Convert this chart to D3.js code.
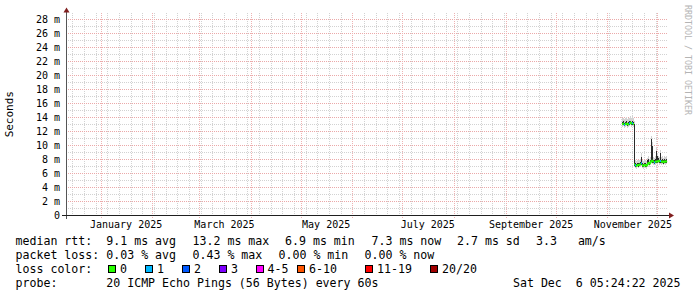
<!DOCTYPE html>
<html>
<head>
<meta charset="utf-8">
<script src="https://cdn.jsdelivr.net/npm/d3@7"></script>
<style>
  body { margin: 0; background: #fff; }
  svg { display: block; }
  text { font-family: "DejaVu Sans Mono", monospace; white-space: pre; }
</style>
</head>
<body>
<svg id="chart" width="697" height="297"></svg>
<script>
// time window shown (last 360 days)
const rangeStart = new Date(2024, 11, 11, 5, 24, 22);
const rangeEnd = new Date(2025, 11, 6, 5, 24, 22);

// samples: one every 14.4 h starting here
const firstSample = new Date(2025, 10, 9, 20, 0, 0);
const stepHours = 14.4;

// median rtt per sample (ms)
const median = [13.0, 13.1, 12.9, 13.0, 13.1, 12.9, 13.0, 13.1, 13.2, 13.0, 13.1, 13.0,
  7.2, 7.1, 7.0, 7.2, 7.1, 7.2, 7.3, 7.4, 7.1, 7.0,
  7.2, 7.1, 7.0, 7.3, 7.5, 7.3, 7.6, 7.8, 7.7, 7.6,
  7.5, 7.6, 7.7, 7.6, 7.8, 7.6, 7.7, 7.6, 7.7, 7.5,
  7.7, 7.6, 7.7];
// dense smoke (inner pings)
const darkLo = [12.8, 12.9, 12.7, 12.8, 12.9, 12.7, 12.8, 12.9, 13.0, 12.8, 12.9, 12.8,
  7.0, 6.9, 6.8, 7.0, 6.9, 7.0, 7.1, 7.2, 6.9, 6.8,
  7.0, 6.9, 6.8, 7.1, 7.3, 7.1, 7.4, 7.6, 7.5, 7.4,
  7.3, 7.4, 7.5, 7.4, 7.6, 7.4, 7.5, 7.4, 7.5, 7.3,
  7.5, 7.4, 7.5];
const darkHi = [13.3, 13.4, 13.2, 13.3, 13.4, 13.2, 13.3, 13.4, 13.5, 13.3, 13.5, 13.3,
  13.0, 7.4, 7.3, 7.5, 7.4, 7.5, 7.6, 8.3, 7.4, 7.3,
  7.5, 7.4, 7.3, 7.8, 8.0, 7.6, 7.9, 10.8, 9.9, 7.9,
  7.8, 8.0, 9.2, 8.4, 8.1, 7.9, 8.8, 7.9, 8.0, 7.8,
  8.0, 7.9, 8.0];
// light smoke (outer pings)
const lightLo = [12.6, 12.7, 12.5, 12.6, 12.7, 12.5, 12.6, 12.7, 12.8, 12.6, 12.7, 12.6,
  6.8, 6.7, 6.6, 6.8, 6.7, 6.8, 6.9, 7.0, 6.7, 6.6,
  6.8, 6.7, 6.6, 6.9, 7.1, 6.9, 7.2, 7.4, 7.3, 7.2,
  7.1, 7.2, 7.3, 7.2, 7.4, 7.2, 7.3, 7.2, 7.3, 7.1,
  7.3, 7.2, 7.3];
const lightHi = [13.8, 13.9, 13.7, 13.9, 14.0, 13.7, 13.8, 13.9, 14.1, 13.9, 14.3, 13.8,
  13.4, 7.8, 7.7, 7.9, 7.8, 7.9, 8.0, 8.8, 7.8, 7.7,
  7.9, 7.8, 7.7, 8.2, 8.4, 8.0, 8.3, 11.3, 10.4, 8.3,
  8.2, 8.4, 9.7, 8.8, 8.5, 8.3, 9.3, 8.3, 8.4, 8.2,
  8.4, 8.3, 8.4];
// loss class index per sample (index into lossColors)
const loss = [0, 0, 1, 0, 0, 0, 0, 1, 0, 0, 1, 0,
  0, 1, 0, 0, 0, 0, 0, 1, 0, 0,
  0, 0, 0, 0, 0, 0, 0, 0, 0, 0,
  1, 0, 0, 0, 0, 0, 1, 0, 0, 0,
  0, 0, 0];

const yTickValues = [0, 2, 4, 6, 8, 10, 12, 14, 16, 18, 20, 22, 24, 26, 28];
const monthLabelDates = [new Date(2025, 0, 16), new Date(2025, 2, 16), new Date(2025, 4, 16),
  new Date(2025, 6, 16), new Date(2025, 8, 16), new Date(2025, 10, 16)];

const lossLabels = ["0", "1", "2", "3", "4-5", "6-10", "11-19", "20/20"];
const lossColors = ["#26ff00", "#00b8ff", "#0059ff", "#7e00ff", "#ff00ff", "#ff5500", "#ff0000", "#a10000"];
const lossBoxX = [108.5, 145.5, 182.5, 219.5, 256, 297.5, 365.5, 430.5];

const statsRows = [
  [["median rtt:  9.1 ms avg", 15.5], ["13.2 ms max", 192.5], ["6.9 ms min", 285], ["7.3 ms now", 371.5], ["2.7 ms sd", 457], ["3.3   am/s", 536]],
  [["packet loss: 0.03 % avg", 15.5], ["0.43 % max", 192.5], ["0.00 % min", 278.5], ["0.00 % now", 364.5]]
];
const probeText = "probe:       20 ICMP Echo Pings (56 Bytes) every 60s";
const dateText = "Sat Dec  6 05:24:22 2025";

const plot = { left: 66, right: 666, top: 13.4, bottom: 215 };

const svg = d3.select("#chart");

const x = d3.scaleTime().domain([rangeStart, rangeEnd]).range([plot.left, plot.right]);
const y = d3.scaleLinear().domain([0, 28.8]).range([plot.bottom, plot.top]);

const samples = median.map((m, i) => ({
  t: new Date(firstSample.getTime() + i * stepHours * 3600e3),
  m: m, dLo: darkLo[i], dHi: darkHi[i], lLo: lightLo[i], lHi: lightHi[i], loss: loss[i]
}));

const px = v => Math.round(v) + 0.5;

// grid
const grid = svg.append("g").attr("shape-rendering", "crispEdges");
const minorY = d3.range(1, 29, 2);
grid.selectAll(".hmin").data(minorY).join("line")
  .attr("x1", plot.left).attr("x2", plot.right + 2)
  .attr("y1", d => px(y(d))).attr("y2", d => px(y(d)))
  .attr("stroke", "#d2d2d2").attr("stroke-dasharray", "1,1");
grid.selectAll(".vmin").data(d3.timeSunday.range(rangeStart, rangeEnd)).join("line")
  .attr("x1", d => px(x(d))).attr("x2", d => px(x(d)))
  .attr("y1", plot.top).attr("y2", plot.bottom + 2)
  .attr("stroke", "#d2d2d2").attr("stroke-dasharray", "1,1");
grid.selectAll(".hmaj").data(yTickValues.filter(v => v > 0)).join("line")
  .attr("x1", plot.left).attr("x2", plot.right + 2)
  .attr("y1", d => px(y(d))).attr("y2", d => px(y(d)))
  .attr("stroke", "#eba9a9").attr("stroke-dasharray", "1,1");
grid.selectAll(".vmaj").data(d3.timeMonth.range(rangeStart, rangeEnd)).join("line")
  .attr("x1", d => px(x(d))).attr("x2", d => px(x(d)))
  .attr("y1", plot.top).attr("y2", plot.bottom + 3)
  .attr("stroke", "#eeb2b2").attr("stroke-dasharray", "1,1");

// smoke
const smoke = svg.append("g").attr("shape-rendering", "crispEdges");
smoke.selectAll(".light").data(samples).join("rect")
  .attr("x", d => Math.round(x(d.t))).attr("width", 1)
  .attr("y", d => y(d.lHi)).attr("height", d => y(d.lLo) - y(d.lHi))
  .attr("fill", "#d2d2d2");
smoke.selectAll(".dark").data(samples).join("rect")
  .attr("x", d => Math.round(x(d.t))).attr("width", 1)
  .attr("y", d => y(d.dHi)).attr("height", d => y(d.dLo) - y(d.dHi))
  .attr("fill", "#2a2a2a");

// median, coloured by loss
const joined = (d, i) => i > 0 && samples[i - 1].loss === d.loss && Math.abs(samples[i - 1].m - d.m) < 1;
svg.append("g").selectAll("line").data(samples).join("line")
  .attr("x1", (d, i) => joined(d, i) ? Math.round(x(samples[i - 1].t)) + 0.5 : Math.round(x(d.t)))
  .attr("y1", (d, i) => joined(d, i) ? y(samples[i - 1].m) : y(d.m))
  .attr("x2", d => Math.round(x(d.t)) + 1)
  .attr("y2", d => y(d.m))
  .attr("stroke", d => lossColors[d.loss])
  .attr("stroke-width", 2);

// axes
const yAxis = svg.append("g")
  .attr("transform", `translate(${plot.left},0)`)
  .call(d3.axisLeft(y).tickValues(yTickValues).tickSize(0).tickPadding(6)
    .tickFormat(d => d === 0 ? "0" : d + " m"));
yAxis.select(".domain").remove();
yAxis.selectAll("text").attr("font-family", "DejaVu Sans Mono").attr("font-size", 10).attr("fill", "#000");

const xAxis = svg.append("g")
  .attr("transform", `translate(0,${plot.bottom})`)
  .call(d3.axisBottom(x).tickValues(monthLabelDates).tickSize(0).tickPadding(6)
    .tickFormat(d3.timeFormat("%B %Y")));
xAxis.select(".domain").remove();
xAxis.selectAll("text").attr("font-family", "DejaVu Sans Mono").attr("font-size", 10).attr("fill", "#000");

// axis lines and arrows
svg.append("line").attr("x1", px(plot.left)).attr("x2", px(plot.left))
  .attr("y1", plot.top - 1).attr("y2", plot.bottom + 4)
  .attr("stroke", "#555").attr("shape-rendering", "crispEdges");
svg.append("line").attr("x1", plot.left - 4).attr("x2", plot.right + 4)
  .attr("y1", px(plot.bottom)).attr("y2", px(plot.bottom))
  .attr("stroke", "#1f1f1f").attr("shape-rendering", "crispEdges");
const ax = px(plot.left), ay = px(plot.bottom);
svg.append("path")
  .attr("d", `M${ax - 3},${plot.top - 1}L${ax + 3},${plot.top - 1}L${ax},${plot.top - 6}Z`)
  .attr("fill", "#801f1f");
svg.append("path")
  .attr("d", `M${plot.right + 3},${ay - 3}L${plot.right + 3},${ay + 3}L${plot.right + 8},${ay}Z`)
  .attr("fill", "#801f1f");

// y title
svg.append("text")
  .attr("transform", `translate(13.3,${(plot.top + plot.bottom) / 2}) rotate(-90)`)
  .attr("text-anchor", "middle")
  .attr("font-family", "DejaVu Sans").attr("font-size", 11)
  .text("Seconds");

// watermark
svg.append("text")
  .attr("transform", "translate(685,5) rotate(90)")
  .attr("font-size", 8.3).attr("fill", "#b4b4b4")
  .text("RRDTOOL / TOBI OETIKER");

// legend
const legend = svg.append("g").attr("font-size", 11.6).attr("fill", "#000");
statsRows.forEach((row, r) => {
  row.forEach(([txt, lx]) => {
    legend.append("text").attr("x", lx).attr("y", 244.5 + r * 14.1).text(txt);
  });
});
legend.append("text").attr("x", 15.5).attr("y", 272.7).text("loss color:");
lossLabels.forEach((lab, i) => {
  legend.append("rect")
    .attr("x", lossBoxX[i]).attr("y", 265.5).attr("width", 7).attr("height", 7)
    .attr("fill", lossColors[i]).attr("stroke", "#000").attr("shape-rendering", "crispEdges");
  legend.append("text").attr("x", lossBoxX[i] + 11.5).attr("y", 272.7).text(lab);
});
legend.append("text").attr("x", 15.5).attr("y", 286.8).text(probeText);
legend.append("text").attr("x", 680.5).attr("y", 286.8).attr("text-anchor", "end").text(dateText);
</script>
</body>
</html>
